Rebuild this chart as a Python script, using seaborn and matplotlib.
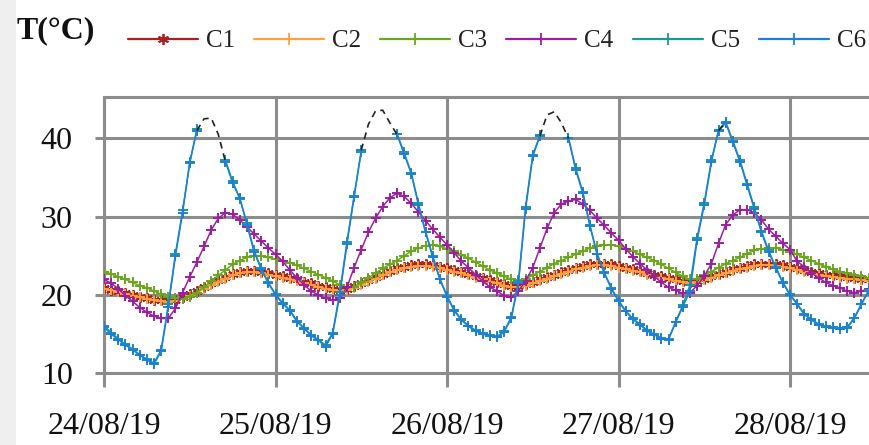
import numpy as np
import pandas as pd
import matplotlib
matplotlib.use("Agg")
import matplotlib.pyplot as plt
from matplotlib.lines import Line2D
from matplotlib.patches import Rectangle
import seaborn as sns

nan = np.nan

# ---------------- data (hourly readings from 24/08/19 00:00) ----------------
HOURS = list(range(108))

C1 = [20.9, 20.7, 20.5, 20.3, 20.0, 19.8, 19.6, 19.4, 19.3, 19.3,
      19.4, 19.7, 20.1, 20.5, 21.0, 21.5, 21.9, 22.3, 22.7, 23.0,
      23.1, 23.1, 23.0, 22.8, 22.6, 22.4, 22.2, 22.0, 21.7, 21.5,
      21.2, 21.0, 20.8, 20.7, 20.8, 21.1, 21.5, 21.9, 22.3, 22.7,
      23.1, 23.4, 23.6, 23.8, 23.9, 23.9, 23.8, 23.6, 23.4, 23.2,
      23.0, 22.7, 22.4, 22.2, 21.9, 21.7, 21.4, 21.2, 21.2, 21.4,
      21.7, 22.0, 22.3, 22.6, 22.9, 23.2, 23.5, 23.7, 23.9, 24.0,
      24.0, 23.9, 23.7, 23.5, 23.3, 23.1, 22.8, 22.6, 22.4, 22.2,
      22.0, 21.8, 21.7, 21.8, 22.1, 22.4, 22.7, 23.0, 23.3, 23.5,
      23.7, 23.9, 24.0, 24.0, 23.9, 23.8, 23.6, 23.4, 23.2, 23.0,
      22.8, 22.6, 22.5, 22.4, 22.3, 22.2, 22.1, 22.0]

C2 = [20.8, 20.6, 20.4, 20.1, 19.9, 19.7, 19.5, 19.3, 19.2, 19.1,
      19.2, 19.5, 19.9, 20.3, 20.8, 21.3, 21.7, 22.1, 22.5, 22.8,
      22.9, 22.9, 22.8, 22.6, 22.4, 22.2, 22.0, 21.8, 21.5, 21.3,
      21.0, 20.8, 20.6, 20.5, 20.6, 20.9, 21.3, 21.7, 22.1, 22.5,
      22.9, 23.2, 23.4, 23.6, 23.7, 23.7, 23.6, 23.4, 23.2, 23.0,
      22.8, 22.5, 22.2, 22.0, 21.7, 21.5, 21.2, 21.0, 21.0, 21.2,
      21.5, 21.8, 22.1, 22.4, 22.7, 23.0, 23.3, 23.5, 23.7, 23.8,
      23.8, 23.7, 23.5, 23.3, 23.1, 22.9, 22.6, 22.4, 22.2, 22.0,
      21.8, 21.6, 21.5, 21.6, 21.9, 22.2, 22.5, 22.8, 23.1, 23.3,
      23.5, 23.7, 23.8, 23.8, 23.7, 23.6, 23.4, 23.2, 23.0, 22.8,
      22.6, 22.4, 22.3, 22.2, 22.1, 22.0, 21.9, 21.8]

C3 = [23.0, 22.7, 22.3, 22.0, 21.6, 21.2, 20.9, 20.5, 20.1, 19.8,
      19.6, 19.5, 19.7, 20.3, 21.0, 21.8, 22.5, 23.2, 23.9, 24.4,
      24.8, 25.0, 25.0, 24.8, 24.6, 24.4, 24.1, 23.8, 23.4, 23.0,
      22.6, 22.2, 21.8, 21.3, 21.0, 21.0, 21.6, 22.2, 22.8, 23.4,
      23.9, 24.4, 25.0, 25.6, 26.0, 26.3, 26.4, 26.2, 25.9, 25.6,
      25.1, 24.7, 24.2, 23.7, 23.2, 22.8, 22.4, 22.0, 21.9, 22.1,
      22.5, 23.0, 23.5, 24.0, 24.4, 24.8, 25.2, 25.6, 26.0, 26.3,
      26.4, 26.4, 26.2, 25.9, 25.6, 25.2, 24.8, 24.4, 23.9, 23.4,
      22.9, 22.4, 22.0, 22.1, 22.5, 23.0, 23.5, 24.0, 24.4, 24.8,
      25.3, 25.7, 25.9, 26.0, 26.0, 25.8, 25.5, 25.2, 24.8, 24.4,
      24.0, 23.6, 23.3, 23.0, 22.8, 22.6, 22.4, 22.2]

C4 = [22.0, 21.5, 20.8, 19.9, 19.2, 18.4, 17.8, 17.3, 17.0, 17.0,
      18.3, 20.3, 22.3, 24.2, 26.2, 28.3, 29.8, 30.5, 30.3, 29.6,
      28.7, 27.8, 26.9, 26.0, 25.2, 24.3, 23.2, 22.2, 21.3, 20.5,
      20.0, 19.6, 19.3, 19.6, 21.0, 23.5, 25.8, 28.0, 29.8, 31.3,
      32.4, 33.0, 32.6, 31.7, 30.6, 29.5, 28.4, 27.4, 26.4, 25.4,
      24.3, 23.5, 22.6, 21.8, 21.0, 20.5, 19.9, 19.7, 20.5, 21.8,
      23.5, 26.0, 28.5, 30.5, 31.6, 32.0, 32.2, 31.6, 30.8, 29.8,
      28.9, 27.9, 27.0, 25.9, 24.9, 24.0, 23.2, 22.4, 21.6, 21.0,
      20.6, 20.2, 20.3, 21.2, 22.4, 24.0, 26.6, 29.0, 30.2, 30.9,
      30.9, 30.5, 29.6, 28.4, 27.5, 26.6, 25.8, 24.3, 23.6, 22.8,
      22.2, 21.6, 21.2, 20.9, 20.5, 20.3, 20.5, 20.8]

C5 = [16.1, 15.2, 14.4, 13.7, 13.1, 12.4, 11.8, 11.3, 13.0, 18.8,
      25.3, 30.8, 36.8, 41.2, nan, nan, nan, 37.2, 34.5, 32.3,
      29.2, 25.7, 23.4, 21.6, 20.1, 19.0, 18.1, 16.7, 15.8, 14.9,
      14.3, 13.6, 15.2, 20.4, 26.8, 32.7, 38.3, nan, nan, nan,
      nan, 40.6, 38.2, 35.6, 31.7, 28.1, 25.0, 22.1, 19.9, 18.1,
      16.9, 16.1, 15.5, 15.1, 14.9, 14.7, 15.4, 17.2, 21.8, 31.3,
      37.9, 40.4, nan, nan, nan, 40.1, 36.2, 33.2, 28.9, 25.3,
      22.9, 20.9, 19.3, 18.0, 17.0, 16.3, 15.5, 15.0, 14.5, 14.4,
      16.6, 18.7, 21.3, 27.3, 31.8, 37.2, 41.1, 42.1, 39.7, 37.2,
      34.2, 31.2, 28.2, 25.7, 23.6, 21.6, 20.1, 18.9, 17.6, 16.9,
      16.3, 16.0, 15.9, 15.8, 15.9, 17.1, 18.9, 20.6]

C6 = [15.9, 15.0, 14.3, 13.6, 13.0, 12.3, 11.7, 11.2, 12.8, 18.5,
      25.0, 30.5, 37.0, 41.0, nan, nan, nan, 37.0, 34.3, 32.4,
      29.0, 25.5, 23.3, 21.5, 20.0, 18.9, 18.0, 16.6, 15.7, 14.8,
      14.2, 13.4, 15.0, 20.0, 26.5, 32.5, 38.5, nan, nan, nan,
      nan, 40.5, 38.0, 35.5, 31.5, 28.0, 24.8, 22.0, 19.8, 18.0,
      16.8, 16.0, 15.4, 15.0, 14.8, 14.6, 15.3, 17.0, 21.5, 31.0,
      37.7, 40.3, nan, nan, nan, 40.0, 36.0, 33.0, 28.8, 25.2,
      22.8, 20.8, 19.2, 17.9, 16.9, 16.2, 15.4, 14.9, 14.4, 14.3,
      16.5, 18.5, 20.5, 27.0, 31.5, 37.0, 41.0, 42.0, 39.5, 37.0,
      34.0, 31.0, 28.0, 25.5, 23.5, 21.5, 20.0, 18.8, 17.5, 16.8,
      16.2, 15.9, 15.8, 15.7, 15.8, 17.0, 18.8, 20.5]

# estimated (dashed) peaks of C6 where readings are missing
PEAK_HOURS = [13, 14, 15, 16, 17, 36, 37, 38, 39, 40, 41,
              61, 62, 63, 64, 65, 86, 87]
PEAK_VALUES = [41.0, 42.5, 42.6, 40.5, 37.0, 38.5, 41.8, 43.5, 43.6, 42.0, 40.5,
               40.3, 43.0, 43.4, 42.0, 40.0, 41.0, 42.0]
PEAK_ID = [1, 1, 1, 1, 1, 2, 2, 2, 2, 2, 2, 3, 3, 3, 3, 3, 4, 4]

SERIES = ["C1", "C2", "C3", "C4", "C5", "C6"]
VALUES = [C1, C2, C3, C4, C5, C6]
COLORS = ["#A82222", "#FFA040", "#6BA61E", "#9B1FA0", "#1A9A94", "#1E7FD8"]
MARKERS = [(6, 2, 0), "+", "+", "+", "+", "+"]

XTICK_HOURS = [0, 24, 48, 72, 96]
XTICK_LABELS = ["24/08/19", "25/08/19", "26/08/19", "27/08/19", "28/08/19"]
YTICKS = [10, 20, 30, 40]

# ---------------- figure ----------------
sns.set_theme(style="white")
plt.rcParams["font.family"] = ["Liberation Serif", "DejaVu Serif"]

W, H = 869, 445
fig = plt.figure(figsize=(W / 100, H / 100), dpi=100, facecolor="white")
fig.patches.append(Rectangle((0, 0), 16 / W, 1, transform=fig.transFigure,
                             facecolor="#efefef", edgecolor="none", zorder=-5))

px_per_hour = 7.146
y_px_10 = 373.3
y_px_top = 97.0
px_per_deg = 7.83
ax = fig.add_axes([104 / W, 1 - y_px_10 / H, (W - 104) / W, (y_px_10 - y_px_top) / H])
ax.set_facecolor("white")

for name, vals, col, mk in zip(SERIES, VALUES, COLORS, MARKERS):
    df = pd.DataFrame({"h": HOURS, "v": vals})
    df["seg"] = df["v"].isna().cumsum()
    df = df.dropna()
    sns.lineplot(data=df, x="h", y="v", units="seg", estimator=None, ax=ax,
                 color=col, lw=1.1, marker=mk, markersize=7.5, markeredgewidth=1.4,
                 markeredgecolor=col, legend=False, zorder=3)

dfp = pd.DataFrame({"h": PEAK_HOURS, "v": PEAK_VALUES, "g": PEAK_ID})
sns.lineplot(data=dfp, x="h", y="v", units="g", estimator=None, ax=ax,
             color="#222222", lw=1.2, linestyle=(0, (4, 3)), legend=False, zorder=4)

ax.set_xlim(0, (W - 104) / px_per_hour)
ax.set_ylim(10, 10 + (y_px_10 - y_px_top) / px_per_deg)
ax.set_xticks(XTICK_HOURS)
ax.set_xticklabels(XTICK_LABELS)
ax.set_yticks(YTICKS)
ax.set_xlabel("")
ax.set_ylabel("")

gcol = "#8c8c8c"
ax.grid(True, color=gcol, lw=2.2)
ax.set_axisbelow(True)
for s in ["left", "top", "bottom"]:
    ax.spines[s].set_color(gcol)
    ax.spines[s].set_linewidth(2.2)
    ax.spines[s].set_visible(True)
ax.spines["right"].set_visible(False)

ax.tick_params(axis="x", direction="out", length=10, width=2.2, color=gcol,
               labelsize=23, pad=18, labelcolor="#111111", bottom=True)
ax.tick_params(axis="y", direction="out", length=6.5, width=2.2, color=gcol,
               labelsize=23, pad=16, labelcolor="#111111", left=True)

fig.text(17 / W, 1 - 31 / H, "T(°C)", fontsize=23, fontweight="bold",
         color="#111111", ha="left", va="center")

handles = [Line2D([], [], color=c, lw=1.6, marker=m, markersize=8,
                  markeredgewidth=1.3, markeredgecolor=c)
           for c, m in zip(COLORS, MARKERS)]
fig.legend(handles, SERIES, ncol=6, loc="center left",
           bbox_to_anchor=(128 / W, 1 - 41 / H), frameon=False, fontsize=18,
           handlelength=2.8, handletextpad=0.32, columnspacing=0.76,
           borderpad=0, borderaxespad=0, labelcolor="#222222")

fig.savefig("out.png", dpi=100, facecolor="white")
